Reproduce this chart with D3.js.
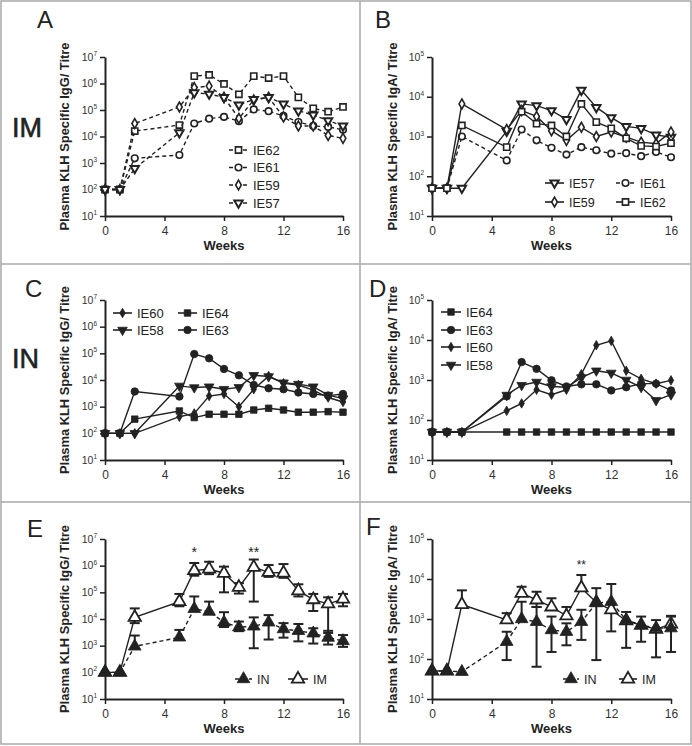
<!DOCTYPE html>
<html><head><meta charset="utf-8">
<script src="https://cdn.jsdelivr.net/npm/d3@7"></script>
<style>body{margin:0;background:#fff}svg{display:block}</style>
</head><body><svg id="c" width="692" height="746"></svg>
<script>
// ---------- DATA ----------
const weeks = [0,1,2,5,6,7,8,9,10,11,12,13,14,15,16];
const xTicks = [0,4,8,12,16];
const igGTicks = [1e1,1e2,1e3,1e4,1e5,1e6,1e7];
const igATicks = [1e1,1e2,1e3,1e4,1e5];
const panelLetters = ["A","B","C","D","E","F"];
const rowLabels = ["IM","IN"];
const yLabelIgG = "Plasma KLH Specific IgG/ Titre";
const yLabelIgA = "Plasma KLH Specific IgA/ Titre";
const xLabel = "Weeks";

// Panel A: IgG, IM animals
const A_IE62 = [100,100,16000,27000,1900000,2100000,960000,390000,1900000,1600000,1900000,300000,115000,86000,130000];
const A_IE61 = [100,100,1500,2000,31000,47000,55000,38000,105000,90000,60000,35000,25000,23000,18000];
const A_IE59 = [100,100,31000,130000,700000,800000,300000,48000,240000,300000,55000,25000,25000,11000,8500];
const A_IE57 = [100,100,620,14000,450000,400000,300000,155000,250000,300000,170000,93000,65000,40000,25000];
// Panel B: IgA, IM animals
const B_IE57 = [50,50,50,1360,6600,6000,4500,2700,14700,5400,3000,1800,1600,1100,960];
const B_IE59 = [50,50,6600,1500,4500,3200,1400,800,1700,1000,1300,960,720,660,1300];
const B_IE61 = [50,50,1000,250,1500,800,520,350,540,450,370,380,320,410,300];
const B_IE62 = [50,50,1900,540,4200,2100,1900,1000,6600,2300,1600,900,580,560,680];
// Panel C: IgG, IN animals
const C_IE60 = [100,100,100,420,560,2500,3000,1000,4500,14000,7500,6500,4200,2200,1500];
const C_IE58 = [100,100,100,6000,5200,5600,4500,5300,15000,13500,7900,7000,5600,2700,2000];
const C_IE64 = [100,100,340,690,390,520,520,520,750,870,750,620,620,650,620];
const C_IE63 = [100,100,3700,2400,94000,65000,26000,15000,6500,4900,4500,3400,3000,2600,3000];
// Panel D: IgA, IN animals
const D_IE64 = [50,50,50,50,50,50,50,50,50,50,50,50,50,50,50];
const D_IE63 = [50,50,50,390,2800,1900,980,690,780,780,550,660,810,810,550];
const D_IE60 = [50,50,50,170,260,570,430,570,1400,7400,9500,1700,1070,810,980];
const D_IE58 = [50,50,50,420,740,890,690,660,1150,1700,1500,1000,660,310,430];
// Panel E: IgG group means with error bars
const E_IM_mean = [100,100,11500,45000,650000,750000,520000,155000,870000,560000,530000,115000,53000,37000,56000];
const E_IM_hi   = [null,null,25000,87000,1260000,1400000,920000,220000,1700000,1060000,1150000,200000,87000,65000,87000];
const E_IM_lo   = [null,null,7000,30000,420000,480000,100000,90000,45000,380000,350000,70000,20000,3600,30000];
const E_IN_mean = [100,100,940,2050,24000,19000,7500,4900,5300,7500,4200,3600,2900,2000,1500];
const E_IN_hi   = [null,null,2400,3900,70000,45000,18000,8000,11500,14000,7000,6500,4500,3000,2500];
const E_IN_lo   = [null,null,null,null,null,null,5000,3500,800,1700,2000,1450,1200,1100,900];
// Panel F: IgA group means with error bars
const F_IM_mean = [50,50,2300,950,4400,3000,2000,1200,6000,2600,1700,900,700,550,750];
const F_IM_hi   = [null,null,5200,1400,6400,4800,3300,2000,12600,null,null,null,null,null,1200];
const F_IM_lo   = [null,null,null,null,null,2000,null,null,null,null,490,null,null,null,null];
const F_IN_mean = [50,50,48,270,1000,850,530,480,850,2500,2700,940,710,590,590];
const F_IN_hi   = [null,null,null,480,2700,2000,1150,780,1700,5900,7500,1500,1150,940,1150];
const F_IN_lo   = [null,null,null,94,null,64,150,220,300,94,null,190,270,110,150];
const sigE = [{week:6,text:"*"},{week:10,text:"**"}];
const sigF = [{week:10,text:"**"}];

// ---------- DRAWING ----------
const FONT = "'Liberation Sans', Arial, Helvetica, sans-serif";
const INK = "#222";
const svg = d3.select("#c");
svg.append("rect").attr("width",692).attr("height",746).attr("fill","#fff");

// frame
const frame = svg.append("g").attr("stroke","#a8a8a8").attr("stroke-width",1.5).attr("fill","none");
frame.append("rect").attr("x",1).attr("y",1).attr("width",690).attr("height",743);
frame.append("line").attr("x1",360).attr("x2",360).attr("y1",1).attr("y2",744);
frame.append("line").attr("x1",1).attr("x2",691).attr("y1",264).attr("y2",264);
frame.append("line").attr("x1",1).attr("x2",691).attr("y1",502).attr("y2",502);

function sym(shape, size){
  const t = {square:d3.symbolSquare, circle:d3.symbolCircle, diamond:d3.symbolDiamond,
             tri:d3.symbolTriangle, triDown:d3.symbolTriangle}[shape];
  return d3.symbol(t, size)();
}
function drawMarker(g, cx, cy, st){
  g.append("path").attr("d", sym(st.shape, st.size))
    .attr("transform", `translate(${cx},${cy})` + (st.shape==="triDown" ? " rotate(180)" : ""))
    .attr("fill", st.open ? "#fff" : INK).attr("stroke", INK)
    .attr("stroke-width", st.open ? (st.sw||1.6) : 0.8);
}

function drawPanel(cfg){
  const g = svg.append("g");
  const x = d3.scaleLinear().domain([0,16]).range([cfg.x0, cfg.x1]);
  const y = d3.scaleLog().domain([cfg.yTicks[0], cfg.yTicks[cfg.yTicks.length-1]]).range([cfg.bot, cfg.top]);

  // y axis
  const ya = g.append("g").attr("transform",`translate(${cfg.x0},0)`)
    .call(d3.axisLeft(y).tickValues(cfg.yTicks).tickSize(5).tickSizeOuter(0).tickFormat(""));
  ya.select(".domain").attr("stroke",INK).attr("stroke-width",2);
  ya.selectAll(".tick line").attr("stroke",INK).attr("stroke-width",1.5);
  cfg.yTicks.forEach(v=>{
    const t = g.append("text").attr("x",cfg.x0-8).attr("y",y(v)+3.6).attr("text-anchor","end")
      .attr("font-family",FONT).attr("font-size",10.5).attr("fill","#333");
    t.append("tspan").text("10");
    t.append("tspan").attr("dy",-4.5).attr("font-size",6.5).text(Math.round(Math.log10(v)));
  });
  // x axis
  const xa = g.append("g").attr("transform",`translate(0,${cfg.bot})`)
    .call(d3.axisBottom(x).tickValues(xTicks).tickSize(5).tickSizeOuter(0).tickPadding(5));
  xa.select(".domain").attr("stroke",INK).attr("stroke-width",2);
  xa.selectAll(".tick line").attr("stroke",INK).attr("stroke-width",1.5);
  xa.selectAll(".tick text").attr("font-family",FONT).attr("font-size",12).attr("fill","#333");
  g.append("text").attr("x",(cfg.x0+cfg.x1)/2).attr("y",cfg.bot+34).attr("text-anchor","middle")
    .attr("font-family",FONT).attr("font-weight","bold").attr("font-size",13).attr("fill",INK).text(xLabel);
  // y label
  g.append("text").attr("transform",`translate(${cfg.labelX},${(cfg.top+cfg.bot)/2}) rotate(-90)`)
    .attr("text-anchor","middle").attr("font-family",FONT).attr("font-weight","bold").attr("font-size",12)
    .attr("textLength",188).attr("lengthAdjust","spacingAndGlyphs").attr("fill",INK).text(cfg.yLabel);
  // letter
  g.append("text").attr("x",cfg.letter[1]).attr("y",cfg.letter[2]).attr("font-family",FONT)
    .attr("font-size",24).attr("fill",INK).text(cfg.letter[0]);

  const line = d3.line().x(d=>x(d[0])).y(d=>y(d[1]));
  cfg.series.forEach(s=>{
    const pts = weeks.map((w,i)=>[w,s.values[i]]).filter(d=>d[1]!=null);
    // error bars
    if (s.hi){
      const eg = g.append("g").attr("stroke",INK).attr("stroke-width",2);
      weeks.forEach((w,i)=>{
        const m = s.values[i], hi = s.hi[i], lo = s.lo ? s.lo[i] : null;
        if (hi==null && lo==null) return;
        const top = hi!=null ? hi : m, btm = lo!=null ? lo : m;
        eg.append("line").attr("x1",x(w)).attr("x2",x(w)).attr("y1",y(top)).attr("y2",y(btm));
        if (hi!=null) eg.append("line").attr("x1",x(w)-5).attr("x2",x(w)+5).attr("y1",y(hi)).attr("y2",y(hi));
        if (lo!=null) eg.append("line").attr("x1",x(w)-5).attr("x2",x(w)+5).attr("y1",y(lo)).attr("y2",y(lo));
      });
    }
    g.append("path").attr("d",line(pts)).attr("fill","none").attr("stroke",INK)
      .attr("stroke-width",s.lw||1.4).attr("stroke-dasharray",s.dash?"4,3":null);
    pts.forEach(d=>drawMarker(g, x(d[0]), y(d[1]), s.st));
  });
  // legend
  cfg.legend.forEach(l=>{
    const s = cfg.series.find(q=>q.name===l.name);
    g.append("line").attr("x1",l.x).attr("x2",l.x+l.w).attr("y1",l.y).attr("y2",l.y)
      .attr("stroke",INK).attr("stroke-width",1.6).attr("stroke-dasharray",s.dash?"4,3":null);
    drawMarker(g, l.x+l.w/2, l.y, s.st);
    g.append("text").attr("x",l.x+l.w+5).attr("y",l.y+4.5).attr("font-family",FONT)
      .attr("font-size",l.fs||13).attr("fill",INK).text(l.name);
  });
  (cfg.sig||[]).forEach(sg=>{
    g.append("text").attr("x",x(sg.week)).attr("y",cfg.sigY).attr("text-anchor","middle")
      .attr("font-family",FONT).attr("font-size",cfg.sigFs).attr("fill",INK).text(sg.text);
  });
}

const openSq={shape:"square",size:38,open:true}, openCi={shape:"circle",size:34,open:true},
      openDi={shape:"diamond",size:28,open:true}, openTd={shape:"triDown",size:30,open:true,sw:2};
const fSq={shape:"square",size:42}, fCi={shape:"circle",size:44}, fDi={shape:"diamond",size:26}, fTd={shape:"triDown",size:40};
const bigOpen={shape:"tri",size:66,open:true,sw:1.8}, bigFill={shape:"tri",size:70};

const C1={x0:105,x1:343,labelX:69}, C2={x0:432,x1:671,labelX:397};
const R1={top:57,bot:216}, R2={top:300,bot:460}, R3={top:539,bot:699};

drawPanel({...C1,...R1,yTicks:igGTicks,yLabel:yLabelIgG,letter:[panelLetters[0],37,28],
  series:[{name:"IE62",values:A_IE62,st:openSq,dash:true},{name:"IE61",values:A_IE61,st:openCi,dash:true},
          {name:"IE59",values:A_IE59,st:openDi,dash:true},{name:"IE57",values:A_IE57,st:openTd,dash:true}],
  legend:[{name:"IE62",x:229,y:150,w:19},{name:"IE61",x:229,y:167.5,w:19},{name:"IE59",x:229,y:185,w:19},{name:"IE57",x:229,y:203,w:19}]});
drawPanel({...C2,...R1,yTicks:igATicks,yLabel:yLabelIgA,letter:[panelLetters[1],375,28],
  series:[{name:"IE57",values:B_IE57,st:openTd},{name:"IE59",values:B_IE59,st:openDi},
          {name:"IE61",values:B_IE61,st:openCi,dash:true},{name:"IE62",values:B_IE62,st:openSq}],
  legend:[{name:"IE57",x:545,y:183,w:19,fs:12.5},{name:"IE61",x:616,y:183,w:19,fs:12.5},
          {name:"IE59",x:545,y:202,w:19,fs:12.5},{name:"IE62",x:616,y:202,w:19,fs:12.5}]});
drawPanel({...C1,...R2,yTicks:igGTicks,yLabel:yLabelIgG,letter:[panelLetters[2],25,297],
  series:[{name:"IE60",values:C_IE60,st:fDi},{name:"IE58",values:C_IE58,st:fTd},
          {name:"IE64",values:C_IE64,st:fSq},{name:"IE63",values:C_IE63,st:fCi}],
  legend:[{name:"IE60",x:113,y:313,w:19},{name:"IE64",x:178,y:313,w:19},
          {name:"IE58",x:113,y:330,w:19},{name:"IE63",x:178,y:330,w:19}]});
drawPanel({...C2,...R2,yTicks:igATicks,yLabel:yLabelIgA,letter:[panelLetters[3],369,297],
  series:[{name:"IE64",values:D_IE64,st:fSq},{name:"IE63",values:D_IE63,st:fCi},
          {name:"IE60",values:D_IE60,st:fDi},{name:"IE58",values:D_IE58,st:fTd}],
  legend:[{name:"IE64",x:441,y:312,w:20},{name:"IE63",x:441,y:330,w:20},
          {name:"IE60",x:441,y:347,w:20},{name:"IE58",x:441,y:365,w:20}]});
drawPanel({...C1,...R3,yTicks:igGTicks,yLabel:yLabelIgG,letter:[panelLetters[4],27,537],
  series:[{name:"IM",values:E_IM_mean,hi:E_IM_hi,lo:E_IM_lo,st:bigOpen},
          {name:"IN",values:E_IN_mean,hi:E_IN_hi,lo:E_IN_lo,st:bigFill,dash:true}],
  legend:[{name:"IN",x:235,y:679,w:17,fs:12.5},{name:"IM",x:288,y:679,w:20,fs:12.5}],
  sig:sigE,sigY:557,sigFs:14});
drawPanel({...C2,...R3,yTicks:igATicks,yLabel:yLabelIgA,letter:[panelLetters[5],366,535],
  series:[{name:"IM",values:F_IM_mean,hi:F_IM_hi,lo:F_IM_lo,st:bigOpen},
          {name:"IN",values:F_IN_mean,hi:F_IN_hi,lo:F_IN_lo,st:bigFill,dash:true}],
  legend:[{name:"IN",x:563,y:679,w:16,fs:12.5},{name:"IM",x:619,y:679,w:18,fs:12.5}],
  sig:sigF,sigY:569,sigFs:12});

// row labels
svg.append("text").attr("x",12).attr("y",137).attr("font-family",FONT).attr("font-size",27)
  .attr("fill",INK).attr("stroke",INK).attr("stroke-width",0.6).text(rowLabels[0]);
svg.append("text").attr("x",12).attr("y",368).attr("font-family",FONT).attr("font-size",27)
  .attr("fill",INK).attr("stroke",INK).attr("stroke-width",0.6).text(rowLabels[1]);
</script></body></html>
